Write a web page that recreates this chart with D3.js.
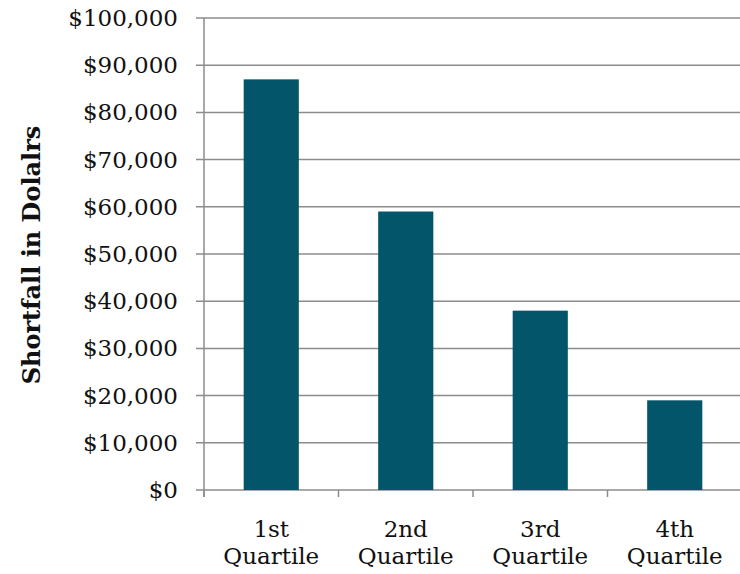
<!DOCTYPE html>
<html><head><meta charset="utf-8">
<script src="https://cdn.jsdelivr.net/npm/d3@7"></script>
<style>body{margin:0;background:#fff}svg{display:block}</style>
</head><body>
<script>
const categories = [["1st","Quartile"],["2nd","Quartile"],["3rd","Quartile"],["4th","Quartile"]];
const values = [87000, 59000, 38000, 19000];
const yTicks = [0,10000,20000,30000,40000,50000,60000,70000,80000,90000,100000];
const yTitle = "Shortfall in Dolalrs";

const W=740,H=574;
const m={left:204,right:-2,top:18,bottom:84};
const svg=d3.select("body").append("svg").attr("width",W).attr("height",H);
const font="'DejaVu Serif', Georgia, serif";
const x=d3.scaleBand().domain(categories.map((d,i)=>i)).range([m.left,W-m.right]).paddingInner(0.59).paddingOuter(0.295);
const y=d3.scaleLinear().domain([0,100000]).range([H-m.bottom,m.top]);
const grey="#8c8c8c";

svg.append("g").selectAll("line").data(yTicks).join("line")
 .attr("x1",m.left-8).attr("x2",W).attr("y1",d=>y(d)).attr("y2",d=>y(d))
 .attr("stroke",grey).attr("stroke-width",1.5);

svg.append("g").selectAll("rect").data(values).join("rect")
 .attr("x",(d,i)=>x(i)).attr("width",x.bandwidth())
 .attr("y",d=>y(d)).attr("height",d=>y(0)-y(d)).attr("fill","#03566a");

svg.append("line").attr("x1",m.left).attr("x2",m.left).attr("y1",y(100000)).attr("y2",y(0)+7).attr("stroke",grey).attr("stroke-width",1.5);
const step=x.step();
const xt=d3.range(5).map(i=>m.left+i*step);
svg.append("g").selectAll("line").data(xt).join("line")
 .attr("x1",d=>d).attr("x2",d=>d).attr("y1",y(0)).attr("y2",y(0)+7).attr("stroke",grey).attr("stroke-width",1.5);

const fmt=d=>"$"+d3.format(",")(d);
svg.append("g").selectAll("text").data(yTicks).join("text")
 .attr("x",178).attr("y",d=>y(d)).attr("dy","0.35em").attr("text-anchor","end")
 .attr("font-family",font).attr("font-size",23).attr("fill","#111").text(fmt);

const xl=svg.append("g").selectAll("text").data(categories).join("text")
 .attr("text-anchor","middle").attr("font-family",font).attr("font-size",23).attr("fill","#111")
 .attr("transform",(d,i)=>`translate(${x(i)+x.bandwidth()/2},0)`);
xl.selectAll("tspan").data(d=>d).join("tspan").attr("x",0).attr("y",(d,j)=>537+j*27).text(d=>d);

svg.append("text").attr("transform","translate(40,255) rotate(-90)").attr("text-anchor","middle")
 .attr("font-family",font).attr("font-weight","bold").attr("font-size",24).attr("fill","#111").text(yTitle);
</script>
</body></html>
